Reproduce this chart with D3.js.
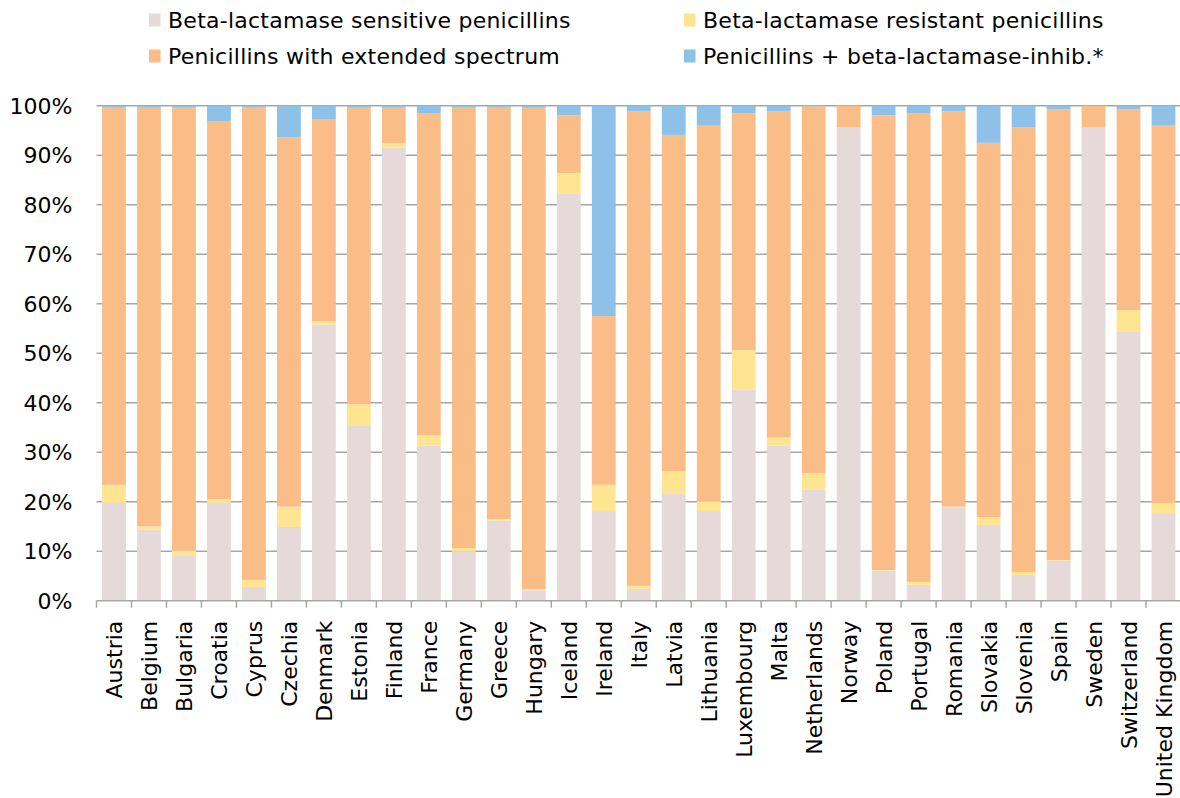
<!DOCTYPE html>
<html>
<head>
<meta charset="utf-8">
<script src="https://cdn.jsdelivr.net/npm/d3@7"></script>
<style>
  body { margin: 0; background: #fff; }
  svg { display: block; font-family: "DejaVu Sans", Verdana, sans-serif; }
  .grid line { stroke: #a6a6a6; stroke-width: 1.5; }
  .axis-text { font-size: 22px; fill: #000; }
  .legend-text { font-size: 22px; fill: #000; letter-spacing: 0.25px; }
</style>
</head>
<body>
<svg id="chart" width="1180" height="798"></svg>
<script>
const countries = ['Austria', 'Belgium', 'Bulgaria', 'Croatia', 'Cyprus', 'Czechia', 'Denmark', 'Estonia',
  'Finland', 'France', 'Germany', 'Greece', 'Hungary', 'Iceland', 'Ireland', 'Italy', 'Latvia', 'Lithuania',
  'Luxembourg', 'Malta', 'Netherlands', 'Norway', 'Poland', 'Portugal', 'Romania', 'Slovakia', 'Slovenia',
  'Spain', 'Sweden', 'Switzerland', 'United Kingdom'];

// shares in % per country
const sensitive = [19.8, 14.4, 9.2, 19.8, 2.8, 14.9, 55.8, 35.3, 91.5, 31.3, 10.0, 16.2, 2.1, 82.3, 18.1, 2.4,
  21.7, 18.1, 42.6, 31.3, 22.5, 95.6, 6.1, 3.2, 18.9, 15.3, 5.2, 8.1, 95.6, 54.3, 17.7];
const resistant = [3.6, 0.6, 0.9, 0.7, 1.4, 4.1, 0.6, 4.4, 0.9, 2.1, 0.6, 0.3, 0.2, 4.1, 5.3, 0.6,
  4.5, 2.0, 8.0, 1.7, 3.3, 0.0, 0.1, 0.6, 0.1, 1.6, 0.6, 0.1, 0.0, 4.4, 2.0];
const extended = [76.2, 84.6, 89.5, 76.4, 95.4, 74.6, 40.9, 59.9, 7.2, 65.1, 89.0, 83.1, 97.3, 11.7, 34.1, 95.9,
  67.9, 76.0, 47.9, 65.9, 74.1, 4.4, 91.9, 94.7, 79.9, 75.6, 89.8, 91.1, 4.4, 40.6, 76.4];
const inhibitor = [0.4, 0.4, 0.4, 3.1, 0.4, 6.4, 2.7, 0.4, 0.4, 1.5, 0.4, 0.4, 0.4, 1.9, 42.5, 1.1,
  5.9, 3.9, 1.5, 1.1, 0.1, 0.0, 1.9, 1.5, 1.1, 7.5, 4.4, 0.7, 0.0, 0.7, 3.9];

const seriesNames = ['Beta-lactamase sensitive penicillins', 'Beta-lactamase resistant penicillins',
  'Penicillins with extended spectrum', 'Penicillins + beta-lactamase-inhib.*'];
const seriesKeys = ['sensitive', 'resistant', 'extended', 'inhibitor'];
const yTicks = [0, 10, 20, 30, 40, 50, 60, 70, 80, 90, 100];

const colors = {
  sensitive: '#e6d9d9',
  resistant: '#ffe591',
  extended: '#fbbd87',
  inhibitor: '#8ec1e8'
};

const rows = countries.map((c, i) => ({
  country: c,
  sensitive: sensitive[i],
  resistant: resistant[i],
  extended: extended[i],
  inhibitor: inhibitor[i]
}));

const margin = { left: 96.5, right: 0, top: 105.7, bottom: 197.3 };
const svg = d3.select('#chart');
const width = 1181 - margin.left;
const height = 600.7 - margin.top;

const chart = svg.append('g')
  .attr('transform', `translate(${margin.left},${margin.top})`);

const xScale = d3.scaleBand()
  .domain(countries)
  .range([0, width])
  .paddingInner(0.32)
  .paddingOuter(0.16);

const yScale = d3.scaleLinear()
  .domain([0, 100])
  .range([height, 0]);

// gridlines
chart.append('g')
  .attr('class', 'grid')
  .selectAll('line')
  .data(yTicks.filter(d => d > 0))
  .join('line')
  .attr('x1', 0)
  .attr('x2', width)
  .attr('y1', d => yScale(d))
  .attr('y2', d => yScale(d));

// y labels
chart.append('g')
  .selectAll('text')
  .data(yTicks)
  .join('text')
  .attr('class', 'axis-text')
  .attr('x', -24)
  .attr('y', d => yScale(d))
  .attr('dy', '0.36em')
  .attr('text-anchor', 'end')
  .text(d => d + '%');

// stacked bars
const stack = d3.stack().keys(seriesKeys);
const layers = stack(rows);

chart.append('g')
  .selectAll('g')
  .data(layers)
  .join('g')
  .attr('fill', d => colors[d.key])
  .selectAll('rect')
  .data(d => d)
  .join('rect')
  .attr('x', d => xScale(d.data.country))
  .attr('width', xScale.bandwidth())
  .attr('y', d => yScale(d[1]))
  .attr('height', d => yScale(d[0]) - yScale(d[1]));

// x axis line + boundary ticks
const step = xScale.step();
const x0 = xScale(countries[0]) - xScale.paddingOuter() * step;
const xAxisG = chart.append('g')
  .attr('transform', `translate(0,${height})`);
xAxisG.append('line')
  .attr('x1', 0)
  .attr('x2', width)
  .attr('stroke', '#a6a6a6')
  .attr('stroke-width', 1.5);
xAxisG.selectAll('.tick')
  .data(d3.range(countries.length + 1))
  .join('line')
  .attr('class', 'tick')
  .attr('x1', i => x0 + i * step)
  .attr('x2', i => x0 + i * step)
  .attr('y1', 0)
  .attr('y2', 7)
  .attr('stroke', '#a6a6a6')
  .attr('stroke-width', 1.5);

xAxisG.selectAll('.xlabel')
  .data(countries)
  .join('text')
  .attr('class', 'axis-text xlabel')
  .attr('text-anchor', 'end')
  .attr('transform', d => `translate(${xScale(d) + xScale.bandwidth() / 2 + 8},20) rotate(-90)`)
  .text(d => d);

// legend
const legendPos = [
  { x: 149, y: 20 },
  { x: 684, y: 20 },
  { x: 149, y: 56 },
  { x: 684, y: 56 }
];
const legend = svg.append('g')
  .selectAll('g')
  .data(seriesKeys)
  .join('g')
  .attr('transform', (d, i) => `translate(${legendPos[i].x},${legendPos[i].y})`);
legend.append('rect')
  .attr('x', 0)
  .attr('y', -6.5)
  .attr('width', 11.5)
  .attr('height', 13)
  .attr('fill', d => colors[d]);
legend.append('text')
  .attr('class', 'legend-text')
  .attr('x', 19)
  .attr('dy', '0.36em')
  .text((d, i) => seriesNames[i]);
</script>
</body>
</html>
